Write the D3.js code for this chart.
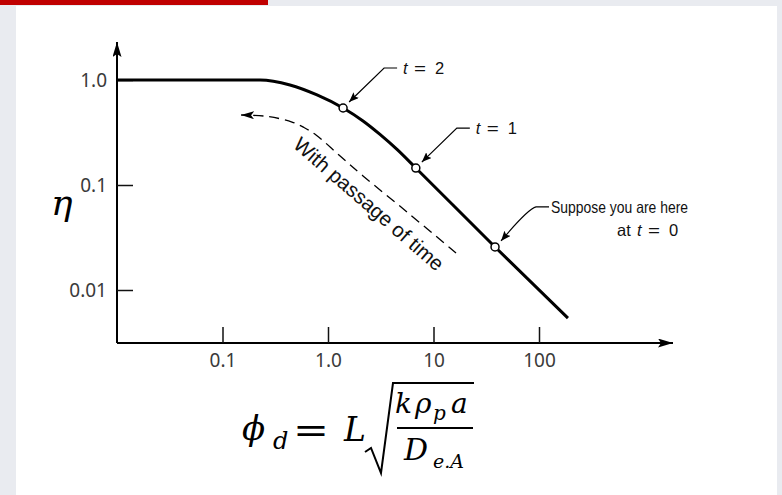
<!DOCTYPE html>
<html>
<head>
<meta charset="utf-8">
<script src="https://cdn.jsdelivr.net/npm/d3@7"></script>
<style>
  html, body { margin: 0; padding: 0; background: #e9ebf0; }
  svg { display: block; }
</style>
</head>
<body>
<svg id="chart" width="782" height="495"></svg>
<script>
// Thiele modulus (x) and effectiveness factor (y), log-log
const xTicks = [0.1, 1, 10, 100];
const xTickLabels = ["0.1", "1.0", "10", "100"];
const yTicks = [1, 0.1, 0.01];
const yTickLabels = ["1.0", "0.1", "0.01"];

// effectiveness-factor curve
const curvePhi = [0.01, 0.227, 0.436, 0.787, 1.39, 2.148, 3.11, 4.51, 6.8, 38.3, 188];
const curveEta = [1.0, 1.0, 0.896, 0.720, 0.541, 0.407, 0.303, 0.218, 0.145, 0.0257, 0.0054];

// states marked on the curve
const stateLabels = ["t = 2", "t = 1", "t = 0"];
const statePhi = [1.39, 6.8, 38.3];
const stateEta = [0.541, 0.145, 0.0257];

// "with passage of time" path, drawn from its tail toward the arrow tip
const driftPhi = [16.35, 5.61, 2.148, 1.271, 0.770, 0.592, 0.456, 0.270, 0.150];
const driftEta = [0.0225, 0.0553, 0.122, 0.193, 0.300, 0.353, 0.398, 0.449, 0.464];

const svg = d3.select("#chart");

// page furniture
svg.append("rect").attr("x", 16).attr("y", 6).attr("width", 761).attr("height", 489).attr("fill", "#ffffff");
svg.append("rect").attr("x", 0).attr("y", 0).attr("width", 268).attr("height", 5).attr("fill", "#c00000");

const defs = svg.append("defs");
const addMarker = (id, w, h, notch) =>
  defs.append("marker")
    .attr("id", id).attr("viewBox", `0 0 ${w} ${h}`)
    .attr("refX", w).attr("refY", h / 2)
    .attr("markerWidth", w).attr("markerHeight", h)
    .attr("markerUnits", "userSpaceOnUse").attr("orient", "auto")
    .append("path").attr("d", `M0,0 L${w},${h / 2} L0,${h} L${notch},${h / 2} Z`).attr("fill", "#000");
addMarker("axisHead", 15, 9, 3);
addMarker("smallHead", 10, 8, 2);
addMarker("driftHead", 13, 8, 3);

const x = d3.scaleLog().domain([0.01, 100]).range([117, 539]);
const y = d3.scaleLog().domain([0.01, 1]).range([290, 80]);

const originX = 117, originY = 343;

// axis lines with arrowheads
svg.append("line")
  .attr("x1", originX).attr("y1", originY).attr("x2", originX).attr("y2", 42)
  .attr("stroke", "#000").attr("stroke-width", 2).attr("marker-end", "url(#axisHead)");
svg.append("line")
  .attr("x1", originX).attr("y1", originY).attr("x2", 673).attr("y2", originY)
  .attr("stroke", "#000").attr("stroke-width", 2).attr("marker-end", "url(#axisHead)");

const tickFont = "'Noto Sans', 'Open Sans', sans-serif";

const yAxis = svg.append("g").attr("transform", `translate(${originX},0)`)
  .call(d3.axisLeft(y).tickValues(yTicks).tickFormat((d, i) => yTickLabels[i])
    .tickSizeInner(-16).tickSizeOuter(0).tickPadding(10));
const xAxis = svg.append("g").attr("transform", `translate(0,${originY})`)
  .call(d3.axisBottom(x).tickValues(xTicks).tickFormat((d, i) => xTickLabels[i])
    .tickSizeInner(-16).tickSizeOuter(0).tickPadding(11));

[yAxis, xAxis].forEach(g => {
  g.select(".domain").remove();
  g.selectAll(".tick line").attr("stroke", "#111").attr("stroke-width", 1.5);
  g.selectAll(".tick text").attr("fill", "#3a3a3a").style("font-family", tickFont).style("font-size", "19px");
});

// y-axis symbol
svg.append("text")
  .attr("x", 51).attr("y", 215)
  .style("font-family", "'DejaVu Serif', serif").style("font-style", "italic").style("font-size", "36px")
  .attr("fill", "#000").text("η");

// dashed drift path
const drift = driftPhi.map((p, i) => ({ phi: p, eta: driftEta[i] }));
svg.append("path")
  .datum(drift)
  .attr("d", d3.line().x(d => x(d.phi)).y(d => y(d.eta)).curve(d3.curveCatmullRom.alpha(0.5)))
  .attr("fill", "none").attr("stroke", "#000").attr("stroke-width", 1.3)
  .attr("stroke-dasharray", "10,6").attr("marker-end", "url(#driftHead)");

svg.append("text")
  .attr("transform", "translate(292,146.5) rotate(41)")
  .style("font-family", "'Liberation Sans', Arial, sans-serif").style("font-size", "20.5px")
  .attr("fill", "#111").text("With passage of time");

// main curve
const curve = curvePhi.map((p, i) => ({ phi: p, eta: curveEta[i] }));
svg.append("path")
  .datum(curve)
  .attr("d", d3.line().x(d => x(d.phi)).y(d => y(d.eta)).curve(d3.curveMonotoneX))
  .attr("fill", "none").attr("stroke", "#000").attr("stroke-width", 3);

// state markers with leaders and labels
const states = statePhi.map((p, i) => ({ phi: p, eta: stateEta[i], label: stateLabels[i] }));
const labelFont = "'Liberation Sans', Arial, sans-serif";

// "t = n" written as three placed pieces: italic t, equals sign, value
const stateText = (tx, ty, value) => {
  const g = svg.append("g").attr("fill", "#111")
    .style("font-family", labelFont).style("font-size", "16.5px");
  g.append("text").attr("x", tx).attr("y", ty).style("font-style", "italic").text("t");
  g.append("text").attr("x", tx + 11).attr("y", ty).attr("textLength", 12).attr("lengthAdjust", "spacingAndGlyphs").text("=");
  g.append("text").attr("x", tx + 32).attr("y", ty).text(value);
};

states.forEach((s, i) => {
  const px = x(s.phi), py = y(s.eta);
  const ex = px + 41, ey = py - 40;
  const leader = d3.path();
  leader.moveTo(ex + 13, ey);
  leader.lineTo(ex, ey);
  if (i === 2) leader.quadraticCurveTo(ex - 8, ey + 2, px + 6, py - 6);
  else leader.lineTo(px + 6, py - 6);
  svg.append("path").attr("d", leader.toString())
    .attr("fill", "none").attr("stroke", "#000").attr("stroke-width", 1.2)
    .attr("marker-end", "url(#smallHead)");

  const value = s.label.slice(-1);
  if (i < 2) {
    stateText(ex + 19, ey + 6, value);
  } else {
    svg.append("text").attr("x", ex + 15).attr("y", ey + 6)
      .attr("textLength", 137).attr("lengthAdjust", "spacingAndGlyphs")
      .style("font-family", labelFont).style("font-size", "16.5px").attr("fill", "#111")
      .text("Suppose you are here");
    svg.append("text").attr("x", ex + 81).attr("y", ey + 29)
      .style("font-family", labelFont).style("font-size", "16.5px").attr("fill", "#111")
      .text("at");
    stateText(ex + 101, ey + 29, value);
  }
});

svg.selectAll(null).data(states).enter().append("circle")
  .attr("cx", d => x(d.phi)).attr("cy", d => y(d.eta)).attr("r", 4)
  .attr("fill", "#fff").attr("stroke", "#000").attr("stroke-width", 1.5);

// x-axis quantity: Thiele modulus definition
const mf = "'DejaVu Serif', serif";
const eq = svg.append("g").attr("fill", "#000").style("font-family", mf);
const addText = (tx, ty, size, str, italic) =>
  eq.append("text").attr("x", tx).attr("y", ty).style("font-size", size + "px")
    .style("font-style", italic ? "italic" : "normal").text(str);

addText(242, 440, 34, "ϕ", true);
addText(273, 449, 24, "d", true);
addText(293, 442, 36, "=", false).attr("textLength", 36).attr("lengthAdjust", "spacingAndGlyphs");
addText(344, 441, 33, "L", true);
addText(395, 413, 28, "k", true);
addText(415, 413, 28, "ρ", true);
addText(433, 420, 20, "p", true);
addText(451, 413, 28, "a", true);
addText(404, 460, 30, "D", true);
addText(433, 468, 19, "e.A", true);

const radical = d3.path();
radical.moveTo(365, 452);
radical.lineTo(371, 448);
radical.lineTo(381, 473);
radical.lineTo(393, 383);
radical.lineTo(474, 383);
eq.append("path").attr("d", radical.toString())
  .attr("fill", "none").attr("stroke", "#000").attr("stroke-width", 2).attr("stroke-linejoin", "miter");
eq.append("line").attr("x1", 397).attr("x2", 473).attr("y1", 428).attr("y2", 428)
  .attr("stroke", "#000").attr("stroke-width", 2);
</script>
</body>
</html>
